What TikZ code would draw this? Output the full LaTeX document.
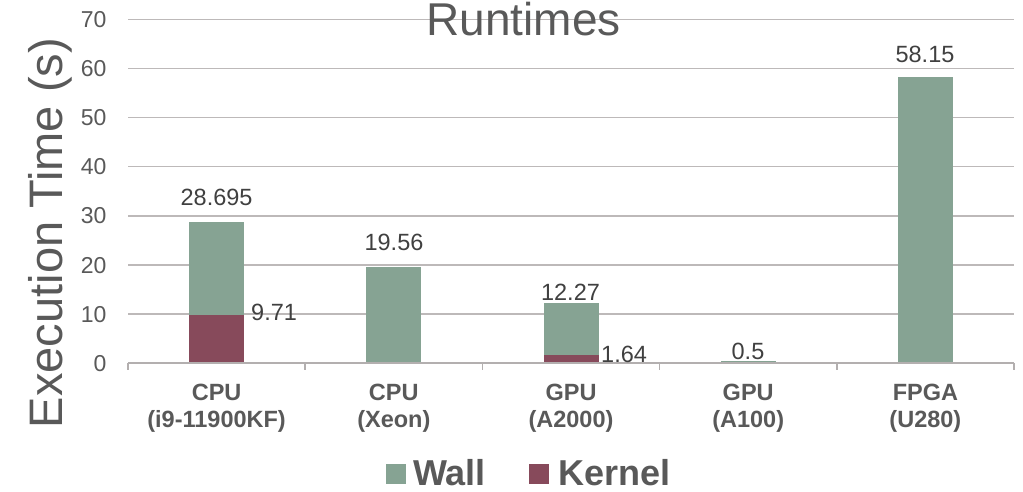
\documentclass[tikz,border=0pt]{standalone}
\usepackage{fontspec}
\setmainfont{Liberation Sans}
\definecolor{wallc}{HTML}{86A393}
\definecolor{kernc}{HTML}{874A5B}
\definecolor{gridc}{HTML}{BDB9B9}
\definecolor{axisc}{HTML}{B3AFAF}
\definecolor{txt}{HTML}{595959}
\definecolor{lbl}{HTML}{404040}
\begin{document}
\begin{tikzpicture}[x=1pt,y=-1pt,
  gridline/.style={draw=gridc, line width=1.6pt},
  axisline/.style={draw=axisc, line width=1.6pt},
  ticklbl/.style={font=\fontsize{23}{23}\selectfont, text=txt, inner sep=0pt, anchor=base east},
  datalbl/.style={font=\fontsize{23.5}{24}\selectfont, text=lbl, inner sep=0pt, anchor=base},
  kernlbl/.style={font=\fontsize{23.5}{24}\selectfont, text=lbl, inner sep=0pt, anchor=base west},
  catlbl/.style={font=\bfseries\fontsize{23.5}{24}\selectfont, text=txt, inner sep=0pt, anchor=base},
  legtxt/.style={font=\bfseries\fontsize{36}{36}\selectfont, text=txt, inner sep=0pt, anchor=base west},
  legbox/.style={minimum size=19.5pt, inner sep=0pt, draw=none},
  wallbar/.style={fill=wallc},
  kernbar/.style={fill=kernc}]
\useasboundingbox[fill=white] (0,0) rectangle (1023,491);
% gridlines and y tick labels
\foreach \k in {1,...,7}{
  \draw[gridline] (128,{363-\k*49.1}) -- (1014,{363-\k*49.1});
}
\foreach \k in {0,...,7}{
  \pgfmathtruncatemacro{\val}{\k*10}
  \node[ticklbl] (t\k) at (106.7,{363-\k*49.1+8.2}) {\val};
}
% title
\node[font=\fontsize{46}{46}\selectfont, text=txt, inner sep=0pt, anchor=base] (title) at (523.5,35) {Runtimes};
% axis title
\node[font=\fontsize{47}{47}\selectfont, text=txt, inner sep=0pt, anchor=base, rotate=90] (ytitle) at (62,233) {Execution Time (s)};
% bars
\def\cw{177.2}
\def\hw{27.5}
\fill[wallbar] (216.6-\hw,363) rectangle (216.6+\hw,{363-28.695*4.91});
\fill[kernbar] (216.6-\hw,363) rectangle (216.6+\hw,{363-9.71*4.91});
\fill[wallbar] (393.8-\hw,363) rectangle (393.8+\hw,{363-19.56*4.91});
\fill[wallbar] (571.0-\hw,363) rectangle (571.0+\hw,{363-12.27*4.91});
\fill[kernbar] (571.0-\hw,363) rectangle (571.0+\hw,{363-1.64*4.91});
\fill[wallbar] (748.2-\hw,363) rectangle (748.2+\hw,{363-0.5*4.91});
\fill[wallbar] (925.4-\hw,363) rectangle (925.4+\hw,{363-58.15*4.91});
% x axis and ticks
\draw[axisline] (128,363) -- (1014,363);
\foreach \i in {0,...,5}{
  \draw[axisline] ({128+\i*\cw},363) -- ({128+\i*\cw},369.5);
}
% data labels
\node[datalbl] (d1) at (216.6,205) {28.695};
\node[datalbl] (d2) at (394,250.7) {19.56};
\node[datalbl] (d3) at (570.5,300.7) {12.27};
\node[datalbl] (d4) at (748,359.3) {0.5};
\node[datalbl] (d5) at (925,62) {58.15};
\node[kernlbl] (k1) at (251,320) {9.71};
\node[kernlbl] (k2) at (601,362.3) {1.64};
% category labels
\node[catlbl] (c1a) at (216.6,400) {CPU};
\node[catlbl] (c1b) at (216.6,427) {(i9-11900KF)};
\node[catlbl] (c2a) at (393.8,400) {CPU};
\node[catlbl] (c2b) at (393.8,427) {(Xeon)};
\node[catlbl] (c3a) at (571.0,400) {GPU};
\node[catlbl] (c3b) at (571.0,427) {(A2000)};
\node[catlbl] (c4a) at (748.2,400) {GPU};
\node[catlbl] (c4b) at (748.2,427) {(A100)};
\node[catlbl] (c5a) at (925.4,400) {FPGA};
\node[catlbl] (c5b) at (925.4,427) {(U280)};
% legend
\node[legbox, fill=wallc] (lw) at (395.8,474) {};
\node[legtxt] (lwt) at (413,485) {Wall};
\node[legbox, fill=kernc] (lk) at (539,474) {};
\node[legtxt] (lkt) at (558,485) {Kernel};
\end{tikzpicture}
\end{document}
